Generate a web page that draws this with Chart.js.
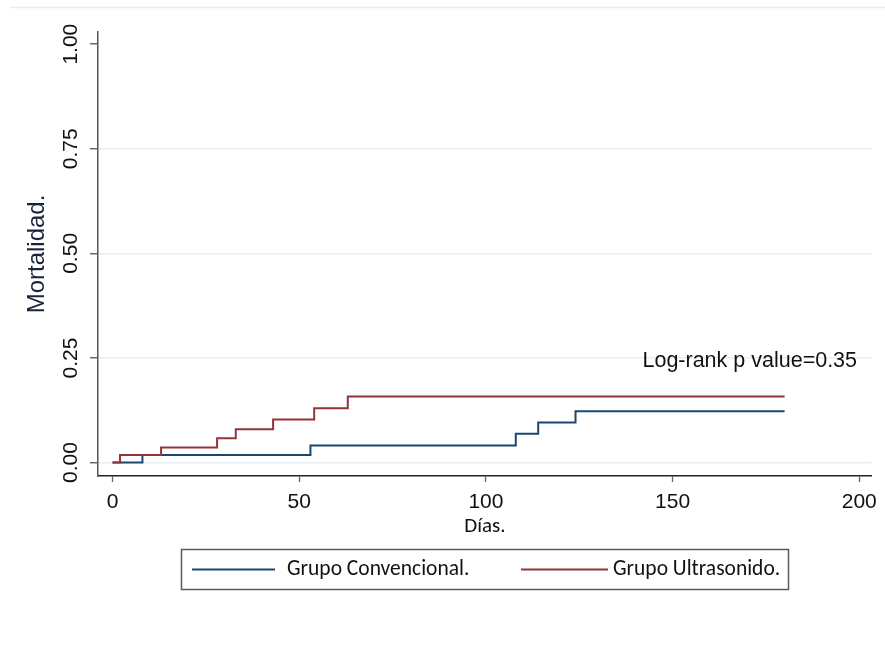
<!DOCTYPE html>
<html>
<head>
<meta charset="utf-8">
<script src="https://cdn.jsdelivr.net/npm/chart.js@4.4.1/dist/chart.umd.min.js"></script>
<style>
  html, body { margin: 0; padding: 0; background: #ffffff; }
  #wrap { width: 885px; height: 647px; }
</style>
</head>
<body>
<div id="wrap"><canvas id="c" width="885" height="647"></canvas></div>
<script>
// ---- data (Kaplan-Meier failure curves) ----
const seriesNames = ['Grupo Convencional.', 'Grupo Ultrasonido.'];
const convDays  = [0, 8, 53, 108, 114, 124, 180];
const convMort  = [0, 0.018, 0.041, 0.069, 0.096, 0.123, 0.123];
const ultraDays = [0, 2, 13, 28, 33, 43, 54, 63, 180];
const ultraMort = [0, 0.018, 0.036, 0.058, 0.080, 0.103, 0.130, 0.158, 0.158];
const xTickVals = [0, 50, 100, 150, 200];
const yTickVals = [0, 0.25, 0.5, 0.75, 1];
const xTitle = 'Días.';
const yTitle = 'Mortalidad.';
const noteText = 'Log-rank p value=0.35';

// ---- styling ----
const BLUE = '#1a476f';
const RED = '#90353b';
const SANS = '"Liberation Sans", Arial, sans-serif';
const CAL = 'Carlito, Lato, "Open Sans", sans-serif';

const toPts = (xs, ys) => xs.map((x, i) => ({ x: x, y: ys[i] }));

const frame = {
  id: 'frame',
  beforeDraw(chart) {
    const ctx = chart.ctx;
    ctx.save();
    ctx.fillStyle = '#ffffff';
    ctx.fillRect(0, 0, chart.width, chart.height);
    ctx.strokeStyle = '#e6eef0';
    ctx.lineWidth = 1.5;
    ctx.beginPath();
    ctx.moveTo(10, 7.5);
    ctx.lineTo(885, 7.5);
    ctx.stroke();
    ctx.restore();
  },
  afterDraw(chart) {
    const ctx = chart.ctx;
    const xs = chart.scales.x, ys = chart.scales.y;
    ctx.save();
    // annotation
    ctx.fillStyle = '#111111';
    ctx.font = '21.5px ' + SANS;
    ctx.textAlign = 'right';
    ctx.textBaseline = 'alphabetic';
    ctx.fillText(noteText, xs.getPixelForValue(199.4), ys.getPixelForValue(0.2286));
    // legend box
    const bx = 181.5, by = 549.5, bw = 607, bh = 40;
    ctx.strokeStyle = '#5a5a5a';
    ctx.lineWidth = 1.5;
    ctx.strokeRect(bx, by, bw, bh);
    const ly = 569.5;
    const items = [
      { c: BLUE, x0: 192, x1: 275, tx: 287, t: seriesNames[0] },
      { c: RED, x0: 521, x1: 608, tx: 613, t: seriesNames[1] }
    ];
    ctx.font = '21.5px ' + CAL;
    ctx.textAlign = 'left';
    ctx.textBaseline = 'middle';
    items.forEach(it => {
      ctx.strokeStyle = it.c;
      ctx.lineWidth = 2;
      ctx.beginPath();
      ctx.moveTo(it.x0, ly);
      ctx.lineTo(it.x1, ly);
      ctx.stroke();
      ctx.fillStyle = '#111111';
      ctx.fillText(it.t, it.tx, ly);
    });
    ctx.restore();
  }
};

new Chart(document.getElementById('c'), {
  type: 'line',
  data: {
    datasets: [
      { label: seriesNames[0], data: toPts(convDays, convMort), borderColor: BLUE, borderWidth: 2,
        stepped: 'before', pointRadius: 0, fill: false, order: 1 },
      { label: seriesNames[1], data: toPts(ultraDays, ultraMort), borderColor: RED, borderWidth: 2,
        stepped: 'before', pointRadius: 0, fill: false, order: 0 }
    ]
  },
  options: {
    responsive: false,
    animation: false,
    devicePixelRatio: 1,
    layout: { padding: { top: 32, right: 13, bottom: 101, left: 0 } },
    plugins: { legend: { display: false }, tooltip: { enabled: false } },
    scales: {
      x: {
        type: 'linear', min: -3.9, max: 203.4,
        afterBuildTicks: s => { s.ticks = xTickVals.map(v => ({ value: v })); },
        afterFit: s => { s.height = 70; },
        border: { display: true, color: '#222222', width: 1.5 },
        grid: { drawOnChartArea: false, drawTicks: true, tickLength: 6, tickColor: '#666666', tickWidth: 1.3 },
        ticks: { autoSkip: false, maxRotation: 0, padding: 8, color: '#111111',
                 font: { family: SANS, size: 21 }, callback: v => String(v) },
        title: { display: true, text: xTitle, color: '#111111', font: { family: CAL, size: 21 },
                 padding: { top: 0, bottom: 6.5 } }
      },
      y: {
        type: 'linear', min: -0.032, max: 1.029,
        afterBuildTicks: s => { s.ticks = yTickVals.map(v => ({ value: v })); },
        afterFit: s => { s.width = 98; },
        border: { display: true, color: '#555555', width: 1.5 },
        grid: {
          color: c => (c.tick && c.tick.value === 1) ? 'rgba(0,0,0,0)' : '#e6eef1',
          lineWidth: 1.5, drawTicks: true, tickLength: 8, tickColor: '#555555', tickWidth: 1.3
        },
        ticks: { autoSkip: false, minRotation: 90, maxRotation: 90, crossAlign: 'center', padding: -2,
                 color: '#111111', font: { family: SANS, size: 21 }, callback: v => Number(v).toFixed(2) },
        title: { display: true, text: yTitle, color: '#18233d', font: { family: SANS, size: 24 },
                 padding: { top: 22.5, bottom: 0 } }
      }
    }
  },
  plugins: [frame]
});
</script>
</body>
</html>
